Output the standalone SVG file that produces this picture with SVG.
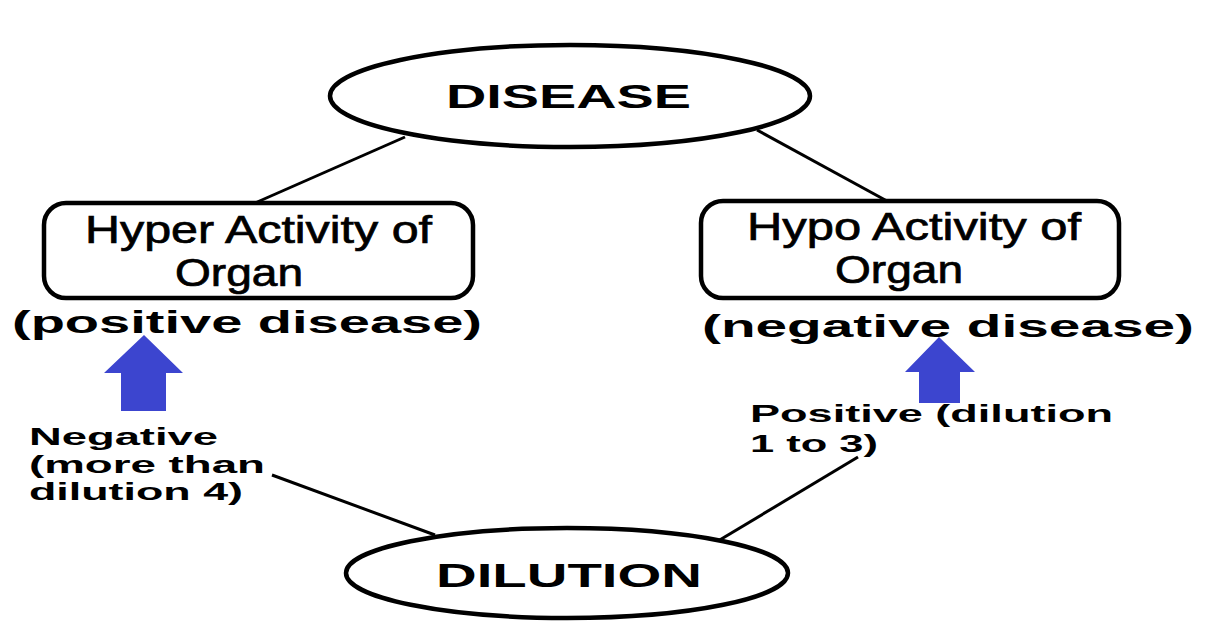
<svg xmlns="http://www.w3.org/2000/svg" width="1212" height="622" viewBox="0 0 1212 622">
<defs>
<style>
.shape{fill:#fff;stroke:#000;stroke-width:4.5}
.conn{stroke:#000;stroke-width:3;fill:none}
.arrow{fill:#3c45cf}
.t{font-family:"Liberation Sans",Arial,sans-serif;fill:#000}
.b{font-weight:bold}
.m{stroke:#000;stroke-width:0.7}
</style>
</defs>
<rect width="1212" height="622" fill="#fff"/>
<g id="connectors">
<line class="conn" x1="405" y1="137" x2="255" y2="203"/>
<line class="conn" x1="757" y1="130" x2="887" y2="201"/>
<line class="conn" x1="272" y1="475" x2="435" y2="535"/>
<line class="conn" x1="858" y1="457" x2="718" y2="541"/>
</g>
<g id="disease">
<ellipse class="shape" cx="570" cy="96" rx="240" ry="51"/>
<text class="t b" x="446" y="108" font-size="34" textLength="245" lengthAdjust="spacingAndGlyphs">DISEASE</text>
</g>
<g id="hyper">
<rect class="shape" x="44" y="203" width="429" height="95" rx="22" stroke-width="5"/>
<text class="t m" x="85" y="243" font-size="38" textLength="347" lengthAdjust="spacingAndGlyphs">Hyper Activity of</text>
<text class="t m" x="175" y="286" font-size="38" textLength="128" lengthAdjust="spacingAndGlyphs">Organ</text>
</g>
<g id="positive-disease">
<text class="t b" x="12" y="333" font-size="31" textLength="470" lengthAdjust="spacingAndGlyphs">(positive disease)</text>
<polygon class="arrow" points="144,335 183,373 166,373 166,411 121,411 121,373 104,373"/>
</g>
<g id="hypo">
<rect class="shape" x="701" y="201" width="418" height="97" rx="22" stroke-width="5"/>
<text class="t m" x="747" y="240" font-size="38" textLength="334" lengthAdjust="spacingAndGlyphs">Hypo Activity of</text>
<text class="t m" x="835" y="283" font-size="38" textLength="128" lengthAdjust="spacingAndGlyphs">Organ</text>
</g>
<g id="negative-disease">
<text class="t b" x="702" y="337" font-size="31" textLength="492" lengthAdjust="spacingAndGlyphs">(negative disease)</text>
<polygon class="arrow" points="939,337 975,372 960,372 960,403 919,403 919,372 905,372"/>
</g>
<g id="negative-label">
<text class="t b" x="29" y="445" font-size="24" textLength="189" lengthAdjust="spacingAndGlyphs">Negative</text>
<text class="t b" x="29" y="473" font-size="24" textLength="236" lengthAdjust="spacingAndGlyphs">(more than</text>
<text class="t b" x="29" y="500" font-size="24" textLength="214" lengthAdjust="spacingAndGlyphs">dilution 4)</text>
</g>
<g id="positive-label">
<text class="t b" x="750" y="422" font-size="24" textLength="363" lengthAdjust="spacingAndGlyphs">Positive (dilution</text>
<text class="t b" x="750" y="452" font-size="24" textLength="128" lengthAdjust="spacingAndGlyphs">1 to 3)</text>
</g>
<g id="dilution">
<ellipse class="shape" cx="567" cy="573" rx="221" ry="45" stroke-width="3.5"/>
<text class="t b" x="436" y="587" font-size="33" textLength="266" lengthAdjust="spacingAndGlyphs">DILUTION</text>
</g>
</svg>
